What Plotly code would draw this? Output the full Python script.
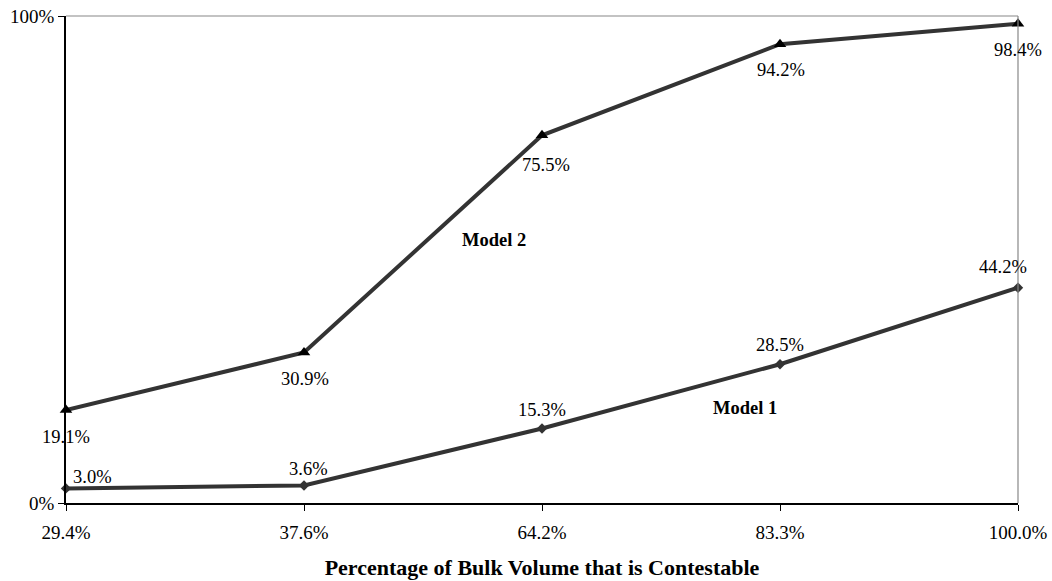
import plotly.graph_objects as go

# Share of bulk volume that is contestable (category axis)
categories = ["29.4%", "37.6%", "64.2%", "83.3%", "100.0%"]
model_1 = [0.030, 0.036, 0.153, 0.285, 0.442]
model_2 = [0.191, 0.309, 0.755, 0.942, 0.984]

# Pixel offsets of each value label from its point
model_1_label_dx = [26, 4, 0, 0, -15]
model_1_label_dy = [11, 16, 18, 19, 21]
model_2_label_dx = [0, 1, 4, 1, 0]
model_2_label_dy = [-27, -26, -30, -26, -26]

x_pos = list(range(len(categories)))
font_family = "Liberation Serif, Times New Roman, serif"
line_color = "#333333"
label_size = 18.5

fig = go.Figure()

fig.add_trace(go.Scatter(
    x=x_pos, y=model_2, mode="lines+markers",
    line=dict(color=line_color, width=4),
    marker=dict(symbol="triangle-up", size=11, color="black"),
    cliponaxis=False, showlegend=False,
))

fig.add_trace(go.Scatter(
    x=x_pos, y=model_1, mode="lines+markers",
    line=dict(color=line_color, width=4),
    marker=dict(symbol="diamond", size=8, color=line_color),
    cliponaxis=False, showlegend=False,
))

# Value labels for every point
for values, dxs, dys in ((model_2, model_2_label_dx, model_2_label_dy),
                         (model_1, model_1_label_dx, model_1_label_dy)):
    for xi, v, dx, dy in zip(x_pos, values, dxs, dys):
        fig.add_annotation(
            x=xi, y=v, text=f"{v:.1%}", showarrow=False,
            xshift=dx, yshift=dy,
            font=dict(family=font_family, size=label_size, color="black"),
        )

# Series names placed beside their lines
fig.add_annotation(x=1.80, y=0.540, text="<b>Model 2</b>", showarrow=False,
                   font=dict(family=font_family, size=label_size, color="black"))
fig.add_annotation(x=2.855, y=0.195, text="<b>Model 1</b>", showarrow=False,
                   font=dict(family=font_family, size=label_size, color="black"))

# Light top and right frame lines
fig.add_shape(type="line", xref="paper", yref="paper", x0=0, x1=1, y0=1, y1=1,
              line=dict(color="#888888", width=1.2))
fig.add_shape(type="line", xref="paper", yref="paper", x0=1, x1=1, y0=0, y1=1,
              line=dict(color="#888888", width=1.2))

fig.update_layout(
    width=1052, height=581,
    margin=dict(l=66, r=34, t=16, b=78),
    plot_bgcolor="white", paper_bgcolor="white",
    font=dict(family=font_family, size=19, color="black"),
    xaxis=dict(
        range=[0, len(categories) - 1],
        tickmode="array", tickvals=x_pos, ticktext=categories,
        showgrid=False, zeroline=False, automargin=False,
        showline=True, linecolor="black", linewidth=1.5,
        ticks="outside", ticklen=6, tickcolor="black",
        ticklabelstandoff=5,
        tickfont=dict(family=font_family, size=19),
        title=dict(text="<b>Percentage of Bulk Volume that is Contestable</b>",
                   font=dict(family=font_family, size=22), standoff=18),
    ),
    yaxis=dict(
        range=[0, 1],
        tickmode="array", tickvals=[0, 1], ticktext=["0%", "100%"],
        showgrid=False, zeroline=False, automargin=False,
        showline=True, linecolor="black", linewidth=1.5,
        ticks="outside", ticklen=6, tickcolor="black",
        tickfont=dict(family=font_family, size=19),
    ),
)

fig.write_html("out.html")
